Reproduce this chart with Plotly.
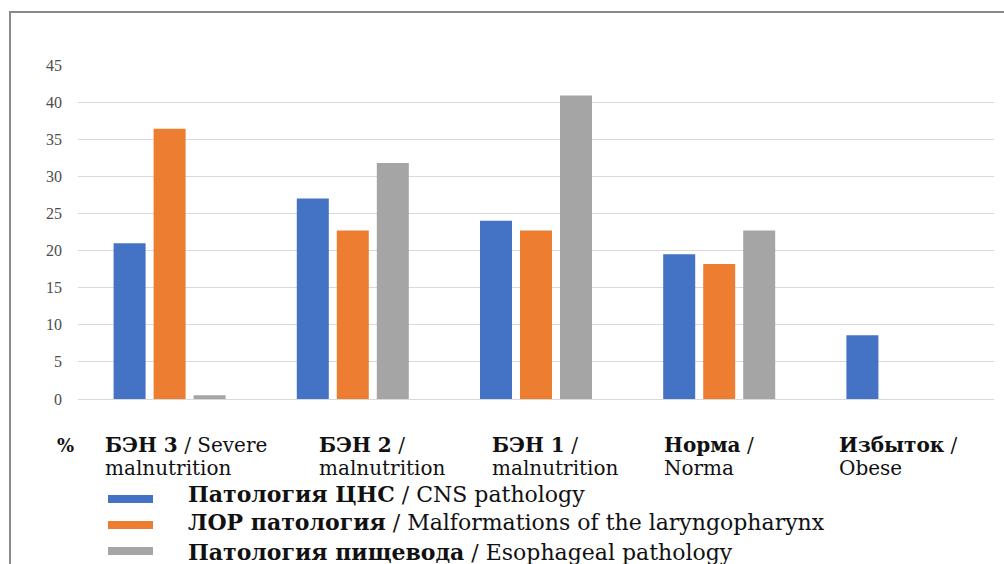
import plotly.graph_objects as go

# Categories (bold Russian part, English continuation on first line, second line)
cat_ru = ["БЭН 3", "БЭН 2", "БЭН 1", "Норма", "Избыток"]
cat_en_line1 = ["Severe", "", "", "", ""]
cat_en_line2 = ["malnutrition", "malnutrition", "malnutrition", "Norma", "Obese"]

# Series values, %
cns = [21.0, 27.0, 24.0, 19.5, 8.6]
lor = [36.4, 22.7, 22.7, 18.2, 0.0]
eso = [0.5, 31.8, 40.9, 22.7, 0.0]

series_ru = ["Патология ЦНС", "ЛОР патология", "Патология пищевода"]
series_en = ["CNS pathology", "Malformations of the laryngopharynx", "Esophageal pathology"]
colors = ["#4472C4", "#ED7D31", "#A5A5A5"]

y_ticks = [0, 5, 10, 15, 20, 25, 30, 35, 40, 45]

W, H = 1004, 564
L, R, T, B = 78, 10, 65, 165
PW, PH = W - L - R, H - T - B

def px_x(px):
    return (px - L) / PW

def px_y(py):
    return (H - B - py) / PH

SERIF = "DejaVu Serif"

fig = go.Figure()
for vals, color, name in zip([cns, lor, eso], colors, series_ru):
    fig.add_trace(go.Bar(
        x=cat_ru, y=vals, name=name,
        marker=dict(color=color, line=dict(width=0)),
        showlegend=False,
    ))

fig.update_layout(
    width=W, height=H,
    margin=dict(l=L, r=R, t=T, b=B, pad=0),
    paper_bgcolor="white", plot_bgcolor="white",
    barmode="group", bargap=0.345, bargroupgap=0.2,
    xaxis=dict(showticklabels=False, showgrid=False, showline=False, ticks=""),
    yaxis=dict(
        range=[0, 45], tickvals=y_ticks, showgrid=True, gridcolor="#d9d9d9", gridwidth=1,
        zeroline=True, zerolinecolor="#d9d9d9", zerolinewidth=1, showline=False,
        ticks="", ticklabelstandoff=15,
        tickfont=dict(family="Liberation Serif", size=16, color="#4d4d4d"),
    ),
)

annotations = []
shapes = []

# Category labels under the bars
label_x = [103, 317, 490, 662, 837]
for x0, ru, en1, en2 in zip(label_x, cat_ru, cat_en_line1, cat_en_line2):
    line1 = f"<b>{ru}</b> /" + (f" {en1}" if en1 else "")
    annotations.append(dict(
        x=px_x(x0), y=px_y(445), xref="paper", yref="paper", text=line1,
        xanchor="left", yanchor="middle", showarrow=False,
        font=dict(family=SERIF, size=20, color="#111111"),
    ))
    annotations.append(dict(
        x=px_x(x0), y=px_y(468), xref="paper", yref="paper", text=en2,
        xanchor="left", yanchor="middle", showarrow=False,
        font=dict(family=SERIF, size=20, color="#111111"),
    ))

annotations.append(dict(
    x=px_x(55), y=px_y(445), xref="paper", yref="paper", text="<b>%</b>",
    xanchor="left", yanchor="middle", showarrow=False,
    font=dict(family=SERIF, size=18, color="#111111"),
))

# Legend drawn as colour strips with text
legend_bar_y = [499, 525, 551]
legend_text_y = [494, 522, 552]
for yc, yt, color, ru, en in zip(legend_bar_y, legend_text_y, colors, series_ru, series_en):
    shapes.append(dict(
        type="rect", xref="paper", yref="paper",
        x0=px_x(108), x1=px_x(153), y0=px_y(yc + 4), y1=px_y(yc - 4),
        fillcolor=color, line=dict(width=0),
    ))
    annotations.append(dict(
        x=px_x(186), y=px_y(yt), xref="paper", yref="paper",
        text=f"<b>{ru}</b> / {en}",
        xanchor="left", yanchor="middle", showarrow=False,
        font=dict(family=SERIF, size=22, color="#111111"),
    ))

# Outer frame
shapes.append(dict(
    type="rect", xref="paper", yref="paper",
    x0=px_x(10), x1=px_x(1012), y0=px_y(575), y1=px_y(12),
    fillcolor="rgba(0,0,0,0)", line=dict(color="#8a8a8a", width=2),
))

fig.update_layout(annotations=annotations, shapes=shapes)
fig.write_html("out.html")
